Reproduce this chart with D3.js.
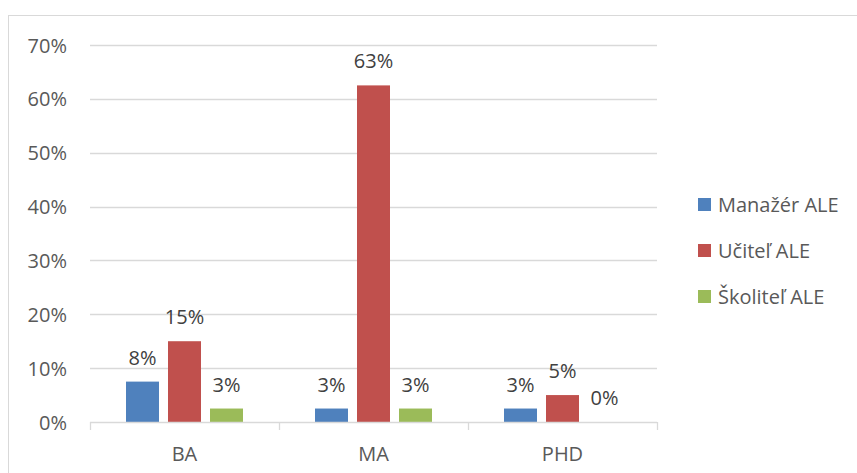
<!DOCTYPE html>
<html><head><meta charset="utf-8">
<script src="https://cdn.jsdelivr.net/npm/d3@7"></script>
<style>body{margin:0;background:#fff}svg{display:block}text{font-family:"Open Sans",sans-serif;fill:#595959}</style>
</head><body><svg id="c" width="857" height="473"></svg>
<script>
const categories = ["BA","MA","PHD"];
const seriesNames = ["Manažér ALE","Učiteľ ALE","Školiteľ ALE"];
const seriesColors = ["#4f81bd","#c0504d","#9bbb59"];
const manazer = [0.075, 0.025, 0.025];
const ucitel = [0.15, 0.625, 0.05];
const skolitel = [0.025, 0.025, 0];
const yTicks = [0,0.1,0.2,0.3,0.4,0.5,0.6,0.7];
const series = [manazer, ucitel, skolitel];
const FS = 20;

const svg = d3.select("#c");
svg.append("rect").attr("x",8.5).attr("y",15.5).attr("width",900).attr("height",500)
  .attr("fill","#fff").attr("stroke","#d9d9d9").attr("stroke-width",1);

const L=90, R=657, T=45, B=422;
const x = d3.scaleBand().domain(categories).range([L,R]);
const y = d3.scaleLinear().domain([0,0.7]).range([B,T]);
const xs = d3.scaleBand().domain(d3.range(3)).range([0,117]).paddingInner(0.2143);

const grid = svg.append("g");
grid.selectAll("line").data(yTicks.slice(1)).join("line")
  .attr("x1",L).attr("x2",R).attr("y1",d=>Math.round(y(d))+0.5).attr("y2",d=>Math.round(y(d))+0.5)
  .attr("stroke","#d9d9d9").attr("stroke-width",1.3);

const yAxis = svg.append("g").attr("transform",`translate(${L},0)`)
  .call(d3.axisLeft(y).tickValues(yTicks).tickFormat(d3.format(".0%")).tickSize(0).tickPadding(23));
yAxis.select(".domain").remove();
yAxis.selectAll("text").attr("font-size",FS).style("fill","#595959").attr("dy","0.35em");

series.forEach((vals,si)=>{
  const g = svg.append("g");
  g.selectAll("rect").data(vals).join("rect")
    .attr("x",(d,i)=>x(categories[i])+x.bandwidth()/2-58.5+xs(si))
    .attr("width",xs.bandwidth())
    .attr("y",d=>y(d)).attr("height",d=>B-y(d))
    .attr("fill",seriesColors[si]);
  g.selectAll("text").data(vals).join("text")
    .attr("x",(d,i)=>x(categories[i])+x.bandwidth()/2-58.5+xs(si)+xs.bandwidth()/2)
    .attr("y",d=>y(d)-24).attr("dy","0.35em").attr("text-anchor","middle")
    .attr("font-size",FS).style("fill","#404040")
    .text(d=>d3.format(".0%")(Math.round(d*100+0.001)/100));
});

const xAxis = svg.append("g").attr("transform",`translate(0,${B})`);
xAxis.append("line").attr("x1",L).attr("x2",R).attr("y1",0.5).attr("y2",0.5).attr("stroke","#d9d9d9").attr("stroke-width",1.3);
xAxis.selectAll("line.t").data(d3.range(4)).join("line").attr("class","t")
  .attr("x1",i=>L+i*x.step()+0.5).attr("x2",i=>L+i*x.step()+0.5).attr("y1",0).attr("y2",8)
  .attr("stroke","#d9d9d9").attr("stroke-width",1.3);
xAxis.selectAll("text").data(categories).join("text")
  .attr("x",d=>x(d)+x.bandwidth()/2).attr("y",32).attr("dy","0.35em").attr("text-anchor","middle")
  .attr("font-size",FS).style("fill","#595959").text(d=>d);

const leg = svg.append("g");
seriesNames.forEach((n,i)=>{
  const yy = 205 + i*46;
  leg.append("rect").attr("x",698).attr("y",yy-7).attr("width",13).attr("height",13).attr("fill",seriesColors[i]);
  leg.append("text").attr("x",718).attr("y",yy).attr("dy","0.35em").attr("font-size",FS).style("fill","#595959").text(n);
});
</script></body></html>
